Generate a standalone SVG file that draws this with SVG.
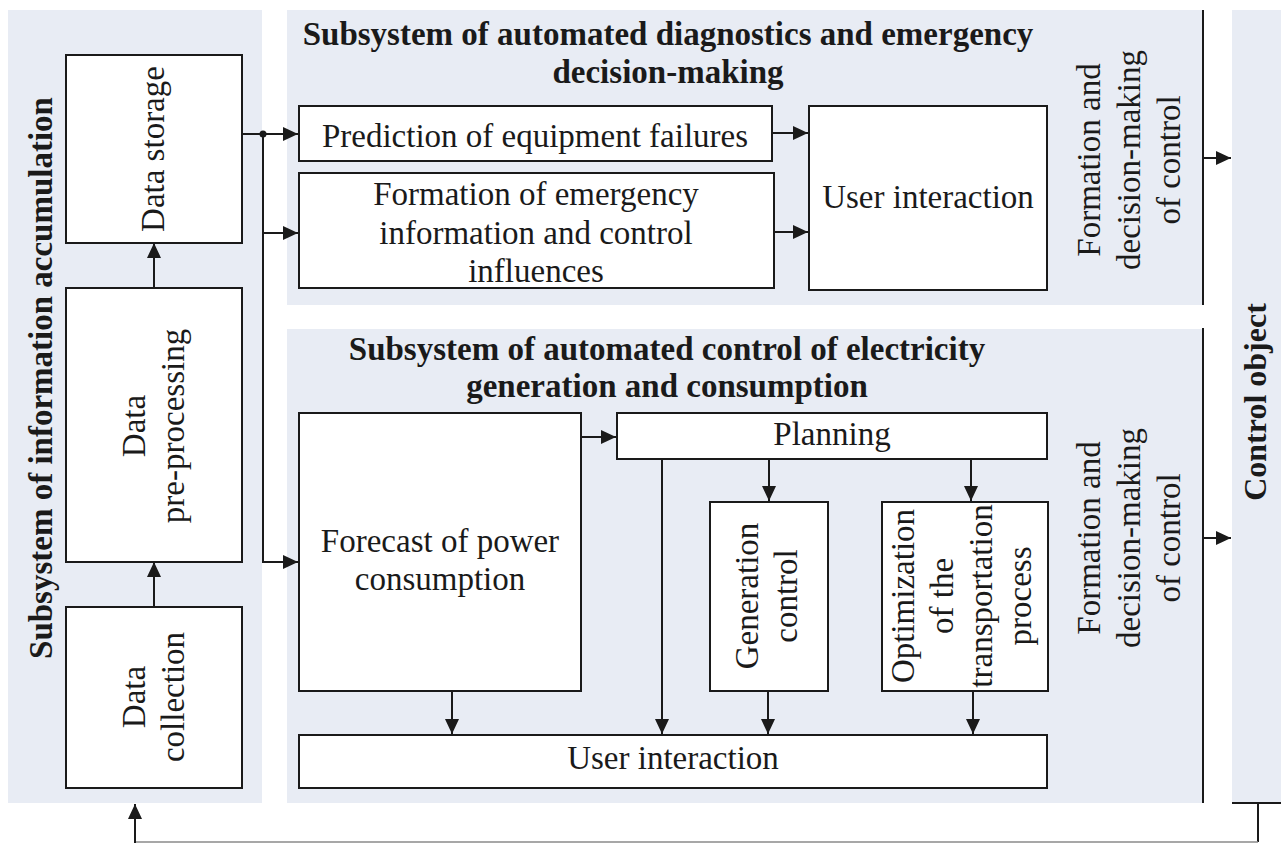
<svg xmlns="http://www.w3.org/2000/svg" width="1281" height="843" viewBox="0 0 1281 843">
  <style>
    .panel { fill: #e8ecf4; }
    .box { fill: #ffffff; stroke: #1a1a1a; stroke-width: 2; }
    .t { font-family: "Liberation Serif", "Times New Roman", serif; font-size: 33px; fill: #1a1a1a; text-anchor: middle; }
    .b { font-weight: bold; }
    .ln { fill: none; stroke: #1a1a1a; stroke-width: 2; }
    .arr { marker-end: url(#ah); }
  </style>
  <defs>
    <marker id="ah" markerUnits="userSpaceOnUse" markerWidth="16" markerHeight="14" refX="15" refY="7" orient="auto">
      <path d="M0,0 L15,7 L0,14 Z" fill="#1a1a1a"/>
    </marker>
  </defs>

  <rect width="1281" height="843" fill="#ffffff"/>

  <!-- Subsystem panels -->
  <g id="panel-accumulation">
    <rect class="panel" x="8" y="10" width="254" height="793"/>
    <text class="t b" transform="translate(52,378) rotate(-90)">Subsystem of information accumulation</text>
  </g>
  <g id="panel-diagnostics">
    <rect class="panel" x="287" y="10" width="916" height="295"/>
    <text class="t b" x="668" y="45">Subsystem of automated diagnostics and emergency</text>
    <text class="t b" x="668" y="83">decision-making</text>
    <text class="t" transform="translate(1100,160) rotate(-90)"><tspan x="0" y="0">Formation and</tspan><tspan x="0" y="40">decision-making</tspan><tspan x="0" y="80">of control</tspan></text>
  </g>
  <g id="panel-generation">
    <rect class="panel" x="287" y="329" width="916" height="474"/>
    <text class="t b" x="667" y="360">Subsystem of automated control of electricity</text>
    <text class="t b" x="667" y="397">generation and consumption</text>
    <text class="t" transform="translate(1100,538) rotate(-90)"><tspan x="0" y="0">Formation and</tspan><tspan x="0" y="40">decision-making</tspan><tspan x="0" y="80">of control</tspan></text>
  </g>
  <g id="control-object">
    <rect class="panel" x="1232" y="10" width="49" height="793"/>
    <line class="ln" x1="1232" y1="803" x2="1281" y2="803"/>
    <text class="t b" style="font-size:32px" transform="translate(1266,402) rotate(-90)">Control object</text>
  </g>

  <!-- Information accumulation blocks -->
  <g id="data-storage">
    <rect class="box" x="66" y="55" width="176" height="188"/>
    <text class="t" transform="translate(164,149) rotate(-90)">Data storage</text>
  </g>
  <g id="data-preprocessing">
    <rect class="box" x="66" y="288" width="176" height="274"/>
    <text class="t" transform="translate(145,426) rotate(-90)"><tspan x="0" y="0">Data</tspan><tspan x="0" y="39">pre-processing</tspan></text>
  </g>
  <g id="data-collection">
    <rect class="box" x="66" y="607" width="176" height="181"/>
    <text class="t" transform="translate(145,697) rotate(-90)"><tspan x="0" y="0">Data</tspan><tspan x="0" y="39">collection</tspan></text>
  </g>

  <!-- Diagnostics blocks -->
  <g id="failure-prediction">
    <rect class="box" x="299" y="106" width="473" height="55"/>
    <text class="t" x="535" y="147">Prediction of equipment failures</text>
  </g>
  <g id="emergency-formation">
    <rect class="box" x="299" y="173" width="475" height="115"/>
    <text class="t" x="536" y="205">Formation of emergency</text>
    <text class="t" x="536" y="244">information and control</text>
    <text class="t" x="536" y="282">influences</text>
  </g>
  <g id="user-interaction-top">
    <rect class="box" x="809" y="106" width="238" height="184"/>
    <text class="t" x="928" y="208">User interaction</text>
  </g>

  <!-- Generation and consumption blocks -->
  <g id="consumption-forecast">
    <rect class="box" x="299" y="413" width="282" height="278"/>
    <text class="t" x="440" y="552">Forecast of power</text>
    <text class="t" x="440" y="590">consumption</text>
  </g>
  <g id="planning">
    <rect class="box" x="617" y="413" width="430" height="46"/>
    <text class="t" x="832" y="445">Planning</text>
  </g>
  <g id="generation-control">
    <rect class="box" x="710" y="502" width="118" height="189"/>
    <text class="t" transform="translate(758,596) rotate(-90)"><tspan x="0" y="0">Generation</tspan><tspan x="0" y="39">control</tspan></text>
  </g>
  <g id="transport-optimization">
    <rect class="box" x="882" y="502" width="166" height="189"/>
    <text class="t" transform="translate(914,596) rotate(-90)"><tspan x="0" y="0">Optimization</tspan><tspan x="0" y="39">of the</tspan><tspan x="0" y="78">transportation</tspan><tspan x="0" y="117">process</tspan></text>
  </g>
  <g id="user-interaction-bottom">
    <rect class="box" x="299" y="735" width="748" height="53"/>
    <text class="t" x="673" y="769">User interaction</text>
  </g>

  <!-- Connectors -->
  <g id="connectors">
    <path class="ln arr" d="M154,607 V562"/>
    <path class="ln arr" d="M154,288 V243"/>
    <path class="ln arr" d="M242,134 H298"/>
    <path class="ln arr" d="M263,134 V562 H298"/>
    <path class="ln arr" d="M263,233 H298"/>
    <circle cx="263" cy="134" r="3.5" fill="#1a1a1a"/>
    <path class="ln arr" d="M772,133 H808"/>
    <path class="ln arr" d="M774,232 H808"/>
    <path class="ln arr" d="M581,437 H616"/>
    <path class="ln arr" d="M769,459 V501"/>
    <path class="ln arr" d="M971,459 V501"/>
    <path class="ln arr" d="M662,459 V734"/>
    <path class="ln arr" d="M452,691 V734"/>
    <path class="ln arr" d="M768,691 V734"/>
    <path class="ln arr" d="M973,691 V734"/>
    <path class="ln" d="M1203,10 V305"/>
    <path class="ln" d="M1203,328 V803"/>
    <path class="ln arr" d="M1203,158 H1231"/>
    <path class="ln arr" d="M1203,538 H1231"/>
    <!-- feedback from the control object back to data collection -->
    <path class="ln" d="M1258,803 V842"/>
    <path class="ln" style="stroke:#8a8a8a;stroke-width:1.5" d="M1258,842 H135"/>
    <path class="ln arr" d="M135,843 V804"/>
  </g>
</svg>
